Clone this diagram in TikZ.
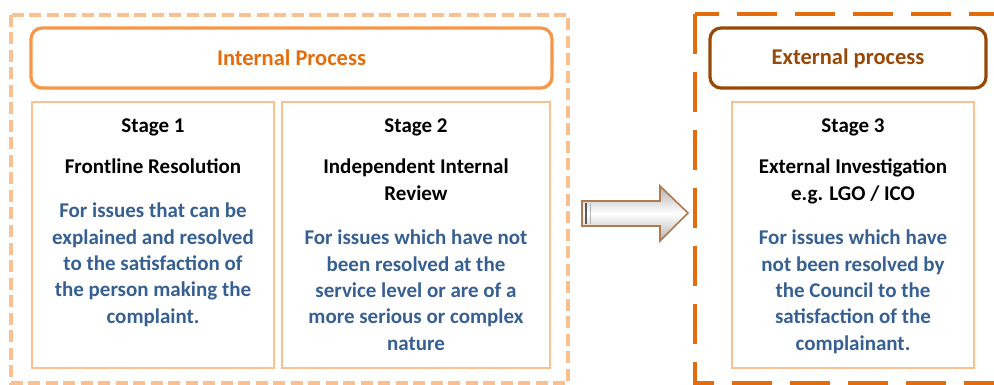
\documentclass[tikz,border=0pt]{standalone}
\usepackage{fontspec}
\setmainfont{Carlito}
\usetikzlibrary{positioning}
\definecolor{paleorange}{HTML}{FAC090}
\definecolor{midorange}{HTML}{F79646}
\definecolor{deeporange}{HTML}{E46C0A}
\definecolor{brownish}{HTML}{984807}
\definecolor{textblue}{HTML}{376092}
\definecolor{arrowedge}{HTML}{B07A4E}
\tikzset{
  bodyfont/.style={font=\fontsize{21}{26.3}\selectfont\bfseries},
  headfont/.style={font=\fontsize{22.5}{27}\selectfont\bfseries},
  outerdash/.style={draw=paleorange, line width=4pt, dash pattern=on 12pt off 5.5pt},
  outerdashdark/.style={draw=deeporange, line width=4pt, dash pattern=on 40pt off 18pt},
  headerbox/.style={draw=midorange, line width=3.2pt, rounded corners=11pt},
  stagebox/.style={draw=paleorange, line width=2pt},
  stagelabel/.style={bodyfont, anchor=base, inner sep=0pt},
  titletext/.style={bodyfont, anchor=north, align=center, inner sep=0pt},
  desctext/.style={bodyfont, anchor=north, align=center, inner sep=0pt, text=textblue},
}
\begin{document}
\begin{tikzpicture}[x=1pt, y=-1pt]
\useasboundingbox (0,0) rectangle (994,385);

% outer frames
\draw[outerdash] (11,15) rectangle (568,383);
\draw[outerdashdark] (695,14) rectangle (1005,383);

% header bars
\node[headerbox, minimum width=521pt, minimum height=60pt, inner sep=0pt] (internal) at (291.5,58) {};
\node[headfont, text=deeporange] at (internal.center) {Internal Process};
\node[headerbox, draw=brownish, minimum width=276pt, minimum height=60pt, inner sep=0pt] (external) at (848,58) {};
\node[headfont, text=brownish] at (external.center) {External process};

% stage boxes
\node[stagebox, minimum width=242pt, minimum height=266pt, inner sep=0pt] (s1) at (153,235) {};
\node[stagebox, minimum width=268pt, minimum height=266pt, inner sep=0pt] (s2) at (416,235) {};
\node[stagebox, minimum width=242pt, minimum height=266pt, inner sep=0pt] (s3) at (853,235) {};

% stage 1
\node[stagelabel] (s1a) at (153,133) {Stage 1};
\node[titletext] (s1b) at (153,159) {Frontline Resolution};
\node[desctext] (s1c) at (153,203) {For issues that can be\\explained and resolved\\to the satisfaction of\\the person making the\\complaint.};

% stage 2
\node[stagelabel] (s2a) at (416,133) {Stage 2};
\node[titletext] (s2b) at (416,159) {Independent Internal\\Review};
\node[desctext] (s2c) at (416,230) {For issues which have not\\been resolved at the\\service level or are of a\\more serious or complex\\nature};

% stage 3
\node[stagelabel] (s3a) at (853,133) {Stage 3};
\node[titletext] (s3b) at (853,159) {External Investigation\\e.g. LGO / ICO};
\node[desctext] (s3c) at (853,230) {For issues which have\\not been resolved by\\the Council to the\\satisfaction of the\\complainant.};

% block arrow from the internal to the external process
\shade[top color=gray!60, bottom color=gray!60, middle color=white, draw=arrowedge, line width=1.6pt, line join=miter]
  (582,201) -- (660,201) -- (660,186) -- (688,213) -- (660,241) -- (660,226) -- (582,226) -- cycle;
\draw[gray!70!black, line width=1.2pt] (586,203) -- (586,224);
\draw[gray!60, line width=1pt] (590,203) -- (590,224);
\end{tikzpicture}
\end{document}
